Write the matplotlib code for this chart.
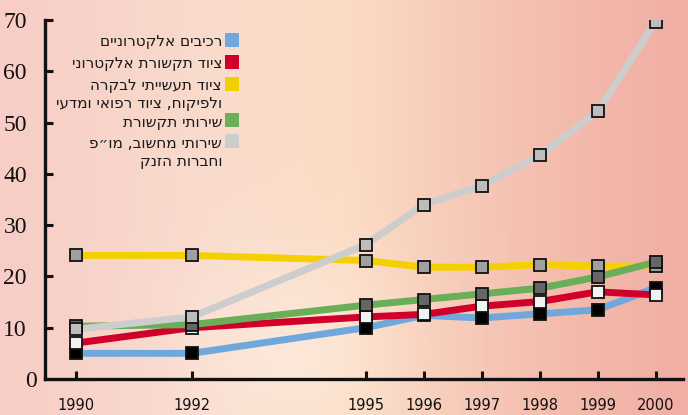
import numpy as np
import matplotlib
matplotlib.use("Agg")
import matplotlib.pyplot as plt
from matplotlib.patches import Rectangle
from matplotlib.colors import LinearSegmentedColormap
import matplotlib.transforms as mtransforms

# ---------------- data ----------------
years = [1990, 1992, 1995, 1996, 1997, 1998, 1999, 2000]
components = [5.0, 5.0, 10.0, 12.4, 11.9, 12.7, 13.5, 17.8]      # רכיבים אלקטרוניים
comm_equipment = [7.0, 10.0, 12.1, 12.6, 14.2, 15.1, 17.0, 16.4]  # ציוד תקשורת אלקטרוני
industrial_eq = [24.1, 24.1, 23.1, 21.8, 21.8, 22.3, 22.0, 22.0]  # ציוד תעשייתי...
comm_services = [10.3, 10.6, 14.4, 15.5, 16.6, 17.7, 19.9, 22.8]  # שירותי תקשורת
computing = [9.7, 12.1, 26.2, 34.0, 37.7, 43.6, 52.2, 69.7]      # שירותי מחשוב...
ytick_values = [0, 10, 20, 30, 40, 50, 60, 70]

labels = [
    ["רכיבים אלקטרוניים"],
    ["ציוד תקשורת אלקטרוני"],
    ["ציוד תעשייתי לבקרה", "ולפיקוח, ציוד רפואי ומדעי"],
    ["שירותי תקשורת"],
    ["שירותי מחשוב, מו״פ", "וחברות הזנק"],
]

def vis(s):
    # visual (left-to-right) order for right-to-left Hebrew text
    return s[::-1]

line_colors = ["#6fa8dc", "#d0002a", "#f5d000", "#6aae5a", "#cdcdcd"]
marker_faces = ["#000000", "#f2f2f2", "#a0a0a0", "#666666", "#bdbdbd"]
series = [components, comm_equipment, industrial_eq, comm_services, computing]

W, H = 688, 415
fig = plt.figure(figsize=(W / 100, H / 100), dpi=100)

# ---------------- background gradient ----------------
bg = fig.add_axes([0, 0, 1, 1], zorder=-10)
bg.set_axis_off()
stops = [(0.0, "#f7cdc6"), (0.30, "#f9dbcd"), (0.50, "#fbdcc4"),
         (0.70, "#f6c7b6"), (0.85, "#f3b9ab"), (1.0, "#f1aea5")]
cmap = LinearSegmentedColormap.from_list("bg", stops)
nx, ny = 200, 100
xx = np.linspace(0, 1, nx)
grad = np.tile(xx, (ny, 1))
img = cmap(grad)
gx, gy = np.meshgrid(np.linspace(0, 1, nx), np.linspace(0, 1, ny))
glow = np.exp(-(((gx - 0.42) / 0.16) ** 2 + ((gy - 0.85) / 0.25) ** 2))
img[..., :3] = img[..., :3] * (1 - 0.45 * glow[..., None]) + 0.45 * glow[..., None] * np.array([1.0, 0.96, 0.92])
bg.imshow(img, aspect="auto", extent=[0, 1, 0, 1], origin="upper")
bg.set_xlim(0, 1)
bg.set_ylim(0, 1)

# ---------------- main axes ----------------
left, right = 45 / W, 683 / W
bottom, top = (H - 379) / H, (H - 20) / H
ax = fig.add_axes([left, bottom, right - left, top - bottom])
ax.patch.set_alpha(0)

for c, s in zip(line_colors, series):
    ax.plot(years, s, color=c, lw=5, solid_capstyle="butt", zorder=2)
for mf, s in zip(marker_faces, series):
    ax.plot(years, s, ls="none", marker="s", ms=8, mfc=mf, mec="#111111",
            mew=1.3, zorder=3)

ax.set_xlim(1989.47, 2000.47)
ax.set_ylim(0, 70)
ax.set_xticks(years)
ax.set_xticklabels([str(y) for y in years], fontsize=10.5, family="DejaVu Sans",
                   color="#111111")
ax.set_yticks(ytick_values)
ax.set_yticklabels([str(v) for v in ytick_values], fontsize=17,
                   family="Liberation Serif", color="#111111")
ax.tick_params(axis="both", direction="in", length=6, width=2.2, color="#111111")
ax.tick_params(axis="x", pad=14)
ax.tick_params(axis="y", pad=13)
for side in ["top", "right"]:
    ax.spines[side].set_visible(False)
for side in ["left", "bottom"]:
    ax.spines[side].set_linewidth(2.4)
    ax.spines[side].set_color("#111111")

for lab in ax.get_yticklabels():
    if lab.get_text() == "0":
        lab.set_transform(lab.get_transform() +
                          mtransforms.ScaledTranslation(10 / 100, 0, fig.dpi_scale_trans))

# ---------------- legend ----------------
sq_tops = [33, 55, 77, 113, 134]
baselines = [[46], [68], [90, 108], [127], [148, 166]]
for lab_lines, c, sq, bl in zip(labels, line_colors, sq_tops, baselines):
    fig.patches.append(Rectangle((225 / W, (H - sq - 14) / H), 14 / W, 14 / H,
                                 transform=fig.transFigure, facecolor=c,
                                 edgecolor="none", zorder=5))
    for txt, b in zip(lab_lines, bl):
        fig.text(222 / W, (H - b) / H, vis(txt), ha="right", va="baseline",
                 fontsize=11, family=["Liberation Sans Narrow", "DejaVu Sans"],
                 color="#1a1a1a")

fig.savefig("out.png", dpi=100)
